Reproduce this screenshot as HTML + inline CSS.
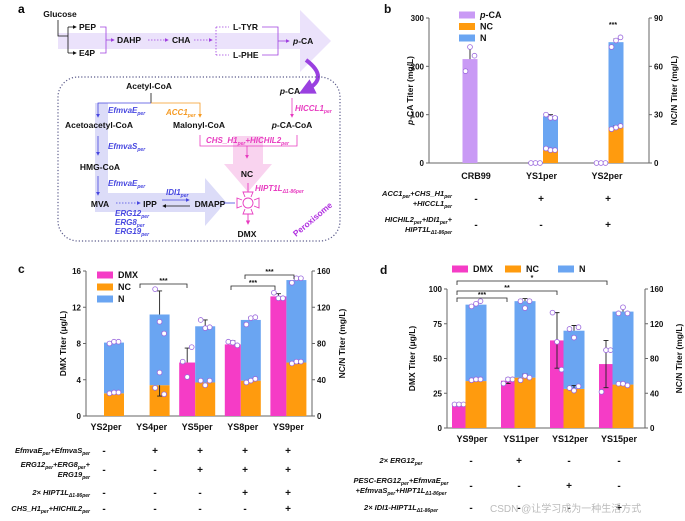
<!DOCTYPE html>
<html><head><meta charset="utf-8">
<style>
html,body{margin:0;padding:0;background:#fff;}
svg{display:block;font-family:"Liberation Sans",Arial,sans-serif;font-weight:bold;}
.t{font-size:8.5px;fill:#111;}
.e{font-size:8px;font-style:italic;}
</style></head>
<body>
<svg id="fig" width="685" height="521" viewBox="0 0 685 521" xmlns="http://www.w3.org/2000/svg">
<defs>
<marker id="ak" markerWidth="5" markerHeight="5" refX="4" refY="2.5" orient="auto"><path d="M0,0L5,2.5L0,5z" fill="#111"/></marker>
<marker id="ap" markerWidth="5" markerHeight="5" refX="4" refY="2.5" orient="auto"><path d="M0,0L5,2.5L0,5z" fill="#a040e0"/></marker>
<marker id="ab" markerWidth="5" markerHeight="5" refX="4" refY="2.5" orient="auto"><path d="M0,0L5,2.5L0,5z" fill="#4848e0"/></marker>
<marker id="ao" markerWidth="5" markerHeight="5" refX="4" refY="2.5" orient="auto"><path d="M0,0L5,2.5L0,5z" fill="#f59a22"/></marker>
<marker id="am" markerWidth="5" markerHeight="5" refX="4" refY="2.5" orient="auto"><path d="M0,0L5,2.5L0,5z" fill="#e83cc0"/></marker>
<marker id="aP" markerWidth="4" markerHeight="4" refX="2" refY="2" orient="auto"><path d="M0,0L4,2L0,4z" fill="#9a40e0"/></marker>
</defs>

<!-- Panel a -->
<g>
<text x="18" y="13" font-size="12">a</text>
<polygon points="58,33 300,33 300,10 331,41 300,72 300,49 58,49" fill="#ebe2fb"/>
<text class="t" x="60" y="17" text-anchor="middle">Glucose</text>
<path d="M58,20V36H68M68,27V53" stroke="#111" fill="none" stroke-width="0.8"/>
<line x1="68" y1="27" x2="76" y2="27" stroke="#111" stroke-width="0.8" marker-end="url(#ak)"/>
<line x1="68" y1="53" x2="76" y2="53" stroke="#111" stroke-width="0.8" marker-end="url(#ak)"/>
<text class="t" x="79" y="30">PEP</text><text class="t" x="79" y="56">E4P</text>
<path d="M100,27H106V53H100M106,40H114" stroke="#a040e0" fill="none" stroke-width="0.8" marker-end="url(#ap)"/>
<text class="t" x="117" y="43">DAHP</text>
<line x1="148" y1="40" x2="168" y2="40" stroke="#a040e0" stroke-width="0.8" stroke-dasharray="1.5,1.5" marker-end="url(#ap)"/>
<text class="t" x="172" y="43">CHA</text>
<line x1="194" y1="40" x2="212" y2="40" stroke="#a040e0" stroke-width="0.8" stroke-dasharray="1.5,1.5" marker-end="url(#ap)"/>
<path d="M216,27V55M216,27H229M216,55H229" stroke="#a040e0" fill="none" stroke-width="0.8" stroke-dasharray="1.5,1.5"/>
<text class="t" x="233" y="30">L-TYR</text><text class="t" x="233" y="58">L-PHE</text>
<path d="M262,27H278V41M262,55H278V41" stroke="#a040e0" fill="none" stroke-width="0.8" stroke-dasharray="0"/>
<line x1="278" y1="41" x2="289" y2="41" stroke="#a040e0" stroke-width="0.8" marker-end="url(#ap)"/>
<text class="t" x="293" y="44"><tspan font-style="italic">p</tspan>-CA</text>
<path d="M306,60Q330,78 306,90" stroke="#9a40e0" stroke-width="4" fill="none" marker-end="url(#aP)"/>
<rect x="58" y="77" width="282" height="164" rx="20" fill="none" stroke="#5a5a8a" stroke-width="1.2" stroke-dasharray="1.2,2"/>
<path d="M95,103H108V193H205V178L226,202L205,226V212H95Z" fill="#dcdcf8"/>
<path d="M233,136H263V164H272L248,192L224,164H233Z" fill="#f9d3ef"/>
<text class="t" x="149" y="89" text-anchor="middle">Acetyl-CoA</text>
<path d="M151,93V103" stroke="#111" stroke-width="0.8"/>
<path d="M151,103H98V117" stroke="#4848e0" stroke-width="0.8" fill="none" marker-end="url(#ab)"/>
<path d="M151,103H200V117" stroke="#f59a22" stroke-width="0.8" fill="none" marker-end="url(#ao)"/>
<text class="e" x="108" y="113" fill="#4848e0">EfmvaE<tspan font-size="5" dy="2">per</tspan></text>
<text class="e" x="166" y="115" fill="#f59a22">ACC1<tspan font-size="5" dy="2">per</tspan></text>
<text class="t" x="99" y="128" text-anchor="middle">Acetoacetyl-CoA</text>
<text class="t" x="199" y="128" text-anchor="middle">Malonyl-CoA</text>
<text class="t" x="292" y="128" text-anchor="middle"><tspan font-style="italic">p</tspan>-CA-CoA</text>
<text class="t" x="290" y="94" text-anchor="middle"><tspan font-style="italic">p</tspan>-CA</text>
<line x1="292" y1="98" x2="292" y2="117" stroke="#e83cc0" stroke-width="0.8" marker-end="url(#am)"/>
<text class="e" x="295" y="111" fill="#e83cc0">HICCL1<tspan font-size="5" dy="2">per</tspan></text>
<line x1="98" y1="136" x2="98" y2="155" stroke="#4848e0" stroke-width="0.8" marker-end="url(#ab)"/>
<text class="e" x="108" y="149" fill="#4848e0">EfmvaS<tspan font-size="5" dy="2">per</tspan></text>
<text class="t" x="100" y="170" text-anchor="middle">HMG-CoA</text>
<line x1="98" y1="176" x2="98" y2="195" stroke="#4848e0" stroke-width="0.8" marker-end="url(#ab)"/>
<text class="e" x="108" y="186" fill="#4848e0">EfmvaE<tspan font-size="5" dy="2">per</tspan></text>
<text class="t" x="100" y="207" text-anchor="middle">MVA</text>
<line x1="116" y1="203" x2="140" y2="203" stroke="#4848e0" stroke-width="0.8" stroke-dasharray="1.5,1.5" marker-end="url(#ab)"/>
<text class="t" x="150" y="207" text-anchor="middle">IPP</text>
<line x1="162" y1="200" x2="189" y2="200" stroke="#4848e0" stroke-width="0.8" marker-end="url(#ab)"/>
<line x1="190" y1="206" x2="163" y2="206" stroke="#111" stroke-width="0.8" marker-end="url(#ak)"/>
<text class="e" x="166" y="195" fill="#4848e0">IDI1<tspan font-size="5" dy="2">per</tspan></text>
<text class="t" x="210" y="207" text-anchor="middle">DMAPP</text>
<line x1="224" y1="203" x2="235" y2="203" stroke="#4848e0" stroke-width="0.8"/>
<text class="e" x="115" y="216" fill="#4848e0">ERG12<tspan font-size="5" dy="2">per</tspan></text>
<text class="e" x="115" y="225" fill="#4848e0">ERG8<tspan font-size="5" dy="2">per</tspan></text>
<text class="e" x="115" y="234" fill="#4848e0">ERG19<tspan font-size="5" dy="2">per</tspan></text>
<path d="M200,135V146H297V135M247,146V158" stroke="#e83cc0" stroke-width="0.8" fill="none" marker-end="url(#am)"/>
<text class="e" x="206" y="143" fill="#e83cc0">CHS_H1<tspan font-size="5" dy="2">per</tspan><tspan dy="-2">+HICHIL2</tspan><tspan font-size="5" dy="2">per</tspan></text>
<text class="t" x="247" y="177" text-anchor="middle">NC</text>
<text class="e" x="255" y="191" fill="#e83cc0">HIPT1L<tspan font-size="5" dy="2">Δ1-86per</tspan></text>
<g stroke="#e83cc0" stroke-width="0.9" fill="none">
<circle cx="248" cy="203" r="5"/>
<path d="M245,197L243,192H253L251,197M245,209L243,214H253L251,209M242,200L237,198V208L242,206M254,200L259,198V208L254,206M248,183V192"/>
<line x1="248" y1="214" x2="248" y2="224" marker-end="url(#am)"/>
</g>
<text class="t" x="247" y="237" text-anchor="middle">DMX</text>
<text x="296" y="237" font-size="8.5" fill="#b030e0" transform="rotate(-40 296 237)">Peroxisome</text>
</g>

<g id="charts"></g>
<text x="490" y="512" font-size="10" font-weight="normal" fill="#bbb">CSDN @让学习成为一种生活方式</text>
</svg>

<script>
// ---------- Panel b data ----------
const bCats = ['CRB99','YS1per','YS2per'];
const bPCA = [215,0,0];
const bPCAErr = [25,0,0];
const bNC = [0,8,22];
const bNCErr = [0,0.5,1];
const bN = [0,21,53];
const bNErr = [0,1,2];
const bPCARep = [[190,240,222],[0,0,0],[0,0,0]];
const bNCRep = [[],[9,8,8],[21,22,23]];
const bTotRep = [[],[30,28,28],[72,76,78]];
const bLeftTicks = [0,100,200,300];
const bRightTicks = [0,30,60,90];
// ---------- Panel c data ----------
const cCats = ['YS2per','YS4per','YS5per','YS8per','YS9per'];
const cDMX = [0,0,5.9,7.9,13.2];
const cDMXErr = [0,0,1.6,0.4,0.3];
const cNC = [25,34,37,39,59];
const cNCErr = [0,12,3,1,1];
const cN = [56,78,62,67,91];
const cNErr = [0,26,7,3,1];
const cDMXRep = [[],[],[6,4.3,7.6],[8.2,8.1,7.8],[13.6,13,13]];
const cNCRep = [[25,26,26],[31,48,24],[39,34,39],[37,39,41],[58,60,60]];
const cTotRep = [[80,82,82],[140,104,91],[106,97,98],[101,108,109],[147,152,152]];
const cLeftTicks = [0,4,8,12,16];
const cRightTicks = [0,40,80,120,160];
// ---------- Panel d data ----------
const dCats = ['YS9per','YS11per','YS12per','YS15per'];
const dDMX = [17,34,63,46];
const dDMXErr = [0,2,20,17];
const dNC = [54,58,45,50];
const dNCErr = [0,4,4,0];
const dN = [88,88,67,84];
const dNErr = [1,3,6,6];
const dDMXRep = [[17,17,17],[32,35,35],[83,62,42],[26,56,56]];
const dNCRep = [[55,56,56],[55,60,58],[46,43,48],[51,51,49]];
const dTotRep = [[140,143,146],[146,138,146],[114,104,116],[132,139,132]];
const dLeftTicks = [0,25,50,75,100];
const dRightTicks = [0,40,80,120,160];

const COL = {pca:'#c99af5', nc:'#ff9b0e', n:'#6aa5f2', dmx:'#f53cc6'};
const NS = 'http://www.w3.org/2000/svg';
const root = document.getElementById('charts');
function mk(tag, attrs, parent){
  const e = document.createElementNS(NS, tag);
  for (const k in attrs) e.setAttribute(k, attrs[k]);
  (parent||root).appendChild(e);
  return e;
}
function txt(x,y,s,size,anchor,parent,rot){
  const t = mk('text',{x:x,y:y,'font-size':size,'text-anchor':anchor||'middle',fill:'#111'},parent);
  if (rot) t.setAttribute('transform','rotate('+rot+' '+x+' '+y+')');
  t.innerHTML = s;
  return t;
}
function axes(g, ax, lt, rt, lmax, rmax, ltitle, rtitle, ltx, rtx){
  const yl = v => ax.y0 - v/lmax*(ax.y0-ax.yt);
  const yr = v => ax.y0 - v/rmax*(ax.y0-ax.yt);
  mk('line',{x1:ax.xl,y1:ax.y0,x2:ax.xr,y2:ax.y0,stroke:'#666','stroke-width':1},g);
  mk('line',{x1:ax.xl,y1:ax.yt,x2:ax.xl,y2:ax.y0,stroke:'#666','stroke-width':1},g);
  mk('line',{x1:ax.xr,y1:ax.yt,x2:ax.xr,y2:ax.y0,stroke:'#666','stroke-width':1},g);
  lt.forEach(v=>{
    const tk = mk('line',{x1:ax.xl-3,y1:yl(v),x2:ax.xl,y2:yl(v),stroke:'#666'},g);
    
    
    const t = txt(ax.xl-5,yl(v)+3,String(v),8,'end',g);
    
    
  });
  rt.forEach(v=>{
    const tk = mk('line',{x1:ax.xr,y1:yr(v),x2:ax.xr+3,y2:yr(v),stroke:'#666'},g);
    
    
    const t = txt(ax.xr+5,yr(v)+3,String(v),8,'start',g);
    
    
  });
  const my = (ax.y0+ax.yt)/2;
  const a = txt(ltx,my,ltitle,8.5,'middle',g,-90);
  
  
  const b = txt(rtx,my,rtitle,8.5,'middle',g,-90);
  
  
  return {yl, yr};
}
function bar(g,cx,w,ytop,ybot,color,name){
  const r = mk('rect',{x:cx-w/2,y:ytop,width:w,height:Math.max(0,ybot-ytop),fill:color},g);
  
  
}
function err(g,cx,y,yE){
  if (Math.abs(y-yE)<0.3) return;
  const e = mk('path',{d:'M'+cx+','+y+'V'+yE+'M'+(cx-2.5)+','+yE+'H'+(cx+2.5),stroke:'#222','stroke-width':0.9,fill:'none'},g);
  
  
}
function dots(g,cx,reps,ys){
  const off = [-4.5,0,4.5];
  reps.forEach((v,i)=>{
    const c = mk('circle',{cx:cx+off[i%3],cy:ys(v),r:2.4,fill:'#fff',stroke:'#9966dd','stroke-width':0.8},g);
    
    
  });
}
function legend(g,items,x,y,dy,dx){
  items.forEach((it,i)=>{
    const lx = x + (dx||0)*i, ly = y + dy*i;
    const s = mk('rect',{x:lx,y:ly-3.5,width:16,height:7,fill:it[1]},g);
    
    
    const t = txt(lx+21,ly+3,it[0],9,'start',g);
    
    
  });
}
function bracket(g,x1,x2,y,label){
  const p = mk('path',{d:'M'+x1+','+(y+4)+'V'+y+'H'+x2+'V'+(y+4),stroke:'#222','stroke-width':0.8,fill:'none'},g);
  
  
  const t = txt((x1+x2)/2,y-1,label,7,'middle',g);
  
  
}
function condRows(g,rows,signs,xs,labelX,anchor){
  rows.forEach((r,i)=>{
    r.lines.forEach((ln,j)=>{
      const t = txt(labelX,r.y+j*10-(r.lines.length-1)*5+3,ln,7.5,anchor,g);
      t.setAttribute('font-style','italic');
      
      
    });
    signs[i].forEach((s,k)=>{
      const t = txt(xs[k],r.y+4,s,10,'middle',g);
      
      
    });
  });
}
const sub = s => '<tspan font-size="5" dy="2">'+s+'</tspan><tspan dy="-2">\u200b</tspan>';

// ----- Panel b -----
(function(){
  const g = mk('g',{});  
  txt(384,13,'b',12,'start',g);
  const ax = {xl:429,xr:649,y0:163,yt:18};
  const s = axes(g,ax,bLeftTicks,bRightTicks,300,90,'<tspan font-style="italic">p</tspan>-CA Titer (mg/L)','NC/N Titer (mg/L)',413,677);
  const cx = i => 478 + i*65.5;
  bCats.forEach((c,i)=>{
    const x = cx(i);
    const xp = x-8, xs = x+7, w=15;
    bar(g,xp,w,s.yl(bPCA[i]),ax.y0,COL.pca,'bar-pca-'+c);
    err(g,xp,s.yl(bPCA[i]),s.yl(bPCA[i]+bPCAErr[i]));
    dots(g,xp,bPCARep[i],s.yl);
    if (bNC[i]+bN[i]>0){
      bar(g,xs,w,s.yr(bNC[i]),ax.y0,COL.nc,'bar-nc-'+c);
      bar(g,xs,w,s.yr(bNC[i]+bN[i]),s.yr(bNC[i]),COL.n,'bar-n-'+c);
      err(g,xs,s.yr(bNC[i]),s.yr(bNC[i]+bNCErr[i]));
      err(g,xs,s.yr(bNC[i]+bN[i]),s.yr(bNC[i]+bN[i]+bNErr[i]));
      dots(g,xs,bNCRep[i],s.yr); dots(g,xs,bTotRep[i],s.yr);
    }
    const t = txt(x-2,ax.y0+16,c,9,'middle',g);
     
  });
  txt(613,27,'***',7,'middle',g);
  legend(g,[['<tspan font-style="italic">p</tspan>-CA',COL.pca,'pca'],['NC',COL.nc,'nc'],['N',COL.n,'n']],459,15,11.5);
  condRows(g,[{y:198,lines:['ACC1'+sub('per')+'+CHS_H1'+sub('per'),'+HICCL1'+sub('per')]},{y:224,lines:['HICHIL2'+sub('per')+'+IDI1'+sub('per')+'+','HIPT1L'+sub('Δ1-86per')]}],
    [['-','+','+'],['-','-','+']],[476,541,608],452,'end');
})();

// ----- Panel c -----
(function(){
  const g = mk('g',{});  
  txt(18,273,'c',12,'start',g);
  const ax = {xl:86,xr:312,y0:416,yt:271};
  const s = axes(g,ax,cLeftTicks,cRightTicks,16,160,'DMX Titer (μg/L)','NC/N Titer (mg/L)',66,345);
  const cx = i => 106 + i*45.6;
  cCats.forEach((c,i)=>{
    const x = cx(i), xd = x-10, xs = x+8;
    if (cDMX[i]>0){
      bar(g,xd,16,s.yl(cDMX[i]),ax.y0,COL.dmx,'bar-dmx-'+c);
      err(g,xd,s.yl(cDMX[i]),s.yl(cDMX[i]+cDMXErr[i]));
      dots(g,xd,cDMXRep[i],s.yl);
    }
    bar(g,xs,20,s.yr(cNC[i]),ax.y0,COL.nc,'bar-nc-'+c);
    bar(g,xs,20,s.yr(cNC[i]+cN[i]),s.yr(cNC[i]),COL.n,'bar-n-'+c);
    err(g,xs,s.yr(cNC[i]),s.yr(cNC[i]-cNCErr[i]));
    err(g,xs,s.yr(cNC[i]+cN[i]),s.yr(cNC[i]+cN[i]+cNErr[i]));
    dots(g,xs,cNCRep[i],s.yr); dots(g,xs,cTotRep[i],s.yr);
    const t = txt(x,ax.y0+14,c,9,'middle',g);
     
  });
  bracket(g,140,187,284,'***');
  bracket(g,231,275,286,'***');
  bracket(g,245,294,275,'***');
  legend(g,[['DMX',COL.dmx,'dmx'],['NC',COL.nc,'nc'],['N',COL.n,'n']],97,275,12);
  condRows(g,[{y:450,lines:['EfmvaE'+sub('per')+'+EfmvaS'+sub('per')]},{y:469,lines:['ERG12'+sub('per')+'+ERG8'+sub('per')+'+','ERG19'+sub('per')]},{y:492,lines:['2× HIPT1L'+sub('Δ1-86per')]},{y:508,lines:['CHS_H1'+sub('per')+'+HICHIL2'+sub('per')]}],
    [['-','+','+','+','+'],['-','-','+','+','+'],['-','-','-','+','+'],['-','-','-','-','+']],[104,155,200,245,288],90,'end');
})();

// ----- Panel d -----
(function(){
  const g = mk('g',{});  
  txt(380,274,'d',12,'start',g);
  const ax = {xl:447,xr:645,y0:428,yt:289};
  const s = axes(g,ax,dLeftTicks,dRightTicks,100,160,'DMX Titer (μg/L)','NC/N Titer (mg/L)',415,682);
  const cx = i => 472 + i*49;
  dCats.forEach((c,i)=>{
    const x = cx(i), xd = x-13, xs = x+4;
    bar(g,xd,14,s.yl(dDMX[i]),ax.y0,COL.dmx,'bar-dmx-'+c);
    err(g,xd,s.yl(dDMX[i]),s.yl(dDMX[i]+dDMXErr[i]));
    err(g,xd,s.yl(dDMX[i]),s.yl(dDMX[i]-dDMXErr[i]));
    dots(g,xd,dDMXRep[i],s.yl);
    bar(g,xs,21,s.yr(dNC[i]),ax.y0,COL.nc,'bar-nc-'+c);
    bar(g,xs,21,s.yr(dNC[i]+dN[i]),s.yr(dNC[i]),COL.n,'bar-n-'+c);
    err(g,xs,s.yr(dNC[i]),s.yr(dNC[i]+dNCErr[i]));
    err(g,xs,s.yr(dNC[i]+dN[i]),s.yr(dNC[i]+dN[i]+dNErr[i]));
    dots(g,xs,dNCRep[i],s.yr); dots(g,xs,dTotRep[i],s.yr);
    const t = txt(x,ax.y0+14,c,9,'middle',g);
     
  });
  bracket(g,457,507,298,'***');
  bracket(g,457,557,291,'**');
  bracket(g,457,607,281,'*');
  legend(g,[['DMX',COL.dmx,'dmx'],['NC',COL.nc,'nc'],['N',COL.n,'n']],452,269,0,53);
  condRows(g,[{y:460,lines:['2× ERG12'+sub('per')]},{y:485,lines:['PESC-ERG12'+sub('per')+'+EfmvaE'+sub('per'),'+EfmvaS'+sub('per')+'+HIPT1L'+sub('Δ1-86per')]},{y:507,lines:['2× IDI1-HIPT1L'+sub('Δ1-86per')]}],
    [['-','+','-','-'],['-','-','+','-'],['-','-','-','+']],[471,519,569,619],401,'middle');
})();
</script>
</body></html>
